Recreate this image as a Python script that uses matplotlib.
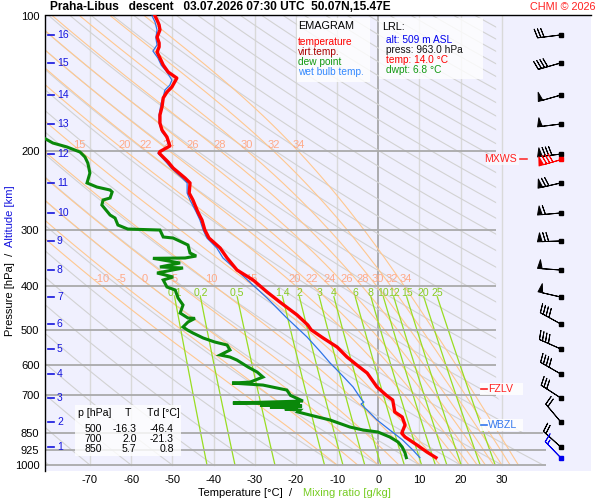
import numpy as np
import matplotlib
matplotlib.use('Agg')
import matplotlib.pyplot as plt
from matplotlib.patches import Rectangle, Polygon

plt.rcParams['font.family'] = ['Liberation Sans', 'DejaVu Sans']

# ---------------- data ----------------
temp_p = [100.0, 102.1, 104.7, 107.4, 111.4, 114.8, 117.2, 120.3, 124.0, 128.6, 133.3, 137.5,
          143.9, 147.7, 152.2, 159.4, 166.1, 173.1, 179.5, 186.0, 194.8, 200.4, 202.0, 211.5,
          218.1, 229.6, 235.4, 247.9, 256.9, 273.3, 284.7, 299.7, 312.2, 328.6, 345.9, 367.9,
          387.2, 411.8, 433.5, 463.4, 487.8, 500.0, 521.4, 546.1, 574.8, 598.9, 624.0, 670.5,
          700.0, 716.7, 762.0, 781.8, 814.5, 844.3, 850.0, 866.3, 902.6, 935.6, 963.0]
temp_t = [-54.2, -53.7, -53.2, -53.0, -53.7, -53.2, -53.2, -53.7, -53.0, -52.2, -51.0, -48.9,
          -50.1, -51.3, -52.2, -52.5, -53.0, -53.0, -52.5, -51.3, -50.6, -53.0, -53.2, -51.0,
          -49.8, -46.9, -45.7, -45.9, -45.0, -43.8, -42.8, -42.1, -41.1, -38.4, -36.7, -34.3,
          -30.4, -27.0, -23.9, -19.7, -17.1, -16.3, -13.4, -10.0, -7.6, -5.2, -2.7, -0.3,
          2.0, 3.5, 4.0, 5.8, 6.5, 5.8, 5.7, 6.5, 9.4, 11.8, 14.0]

dwpt_p = [185.1, 191.8, 195.7, 200.9, 206.1, 212.6, 223.7, 235.4, 240.4, 244.1, 246.6, 254.3,
          256.9, 263.6, 277.5, 281.8, 292.1, 298.2, 299.7, 310.6, 312.2, 323.6, 337.2, 342.4,
          345.9, 346.5, 354.9, 362.2, 364.1, 373.6, 381.3, 387.2, 401.4, 407.6, 424.7, 440.2,
          458.7, 470.6, 471.5, 480.4, 492.7, 500.0, 508.2, 521.4, 532.2, 540.5, 554.5, 568.9,
          574.8, 583.9, 605.2, 620.9, 637.0, 653.6, 657.0, 663.7, 680.9, 700.0, 720.4, 727.8,
          731.6, 735.4, 739.1, 743.0, 746.8, 750.6, 754.5, 762.0, 773.9, 794.0, 823.0, 835.8,
          844.3, 866.3, 888.8, 912.0, 940.4, 963.0]
dwpt_t = [-82.0, -79.0, -75.6, -72.4, -71.2, -70.5, -70.0, -70.7, -68.3, -65.1, -64.6, -65.1,
          -66.8, -67.1, -65.1, -63.9, -63.2, -60.8, -53.0, -52.2, -49.8, -46.2, -45.7, -44.2,
          -46.9, -54.7, -48.1, -53.0, -47.4, -53.7, -49.8, -52.2, -51.3, -49.3, -48.6, -47.4,
          -48.1, -46.2, -44.5, -46.2, -47.4, -46.4, -45.0, -42.5, -39.7, -36.7, -36.0, -38.4,
          -36.0, -34.3, -31.6, -29.4, -28.0, -31.1, -35.5, -28.0, -22.2, -21.3, -18.3, -35.3,
          -19.0, -28.7, -18.5, -26.3, -19.5, -22.7, -19.0, -19.5, -16.6, -11.7, -6.9, -3.7,
          -0.1, 2.8, 4.8, 5.8, 6.5, 6.8]

wetb_p = [100.0, 103.1, 107.4, 111.9, 116.0, 119.7, 124.0, 128.6, 133.3, 138.9, 142.5, 146.2,
          151.5, 156.2, 166.1, 173.1, 181.3, 186.0, 195.7, 202.0, 211.5, 218.1, 229.6, 235.4,
          247.9, 256.9, 273.3, 284.7, 299.7, 312.2, 328.6, 345.9, 373.6, 424.7, 470.6, 518.7,
          557.4, 592.6, 624.0, 670.5, 716.7, 724.2, 731.6, 754.5, 794.0, 835.8, 879.7, 926.2, 963.0]
wetb_t = [-54.9, -54.2, -53.7, -54.0, -53.7, -54.7, -53.5, -52.7, -51.3, -50.1, -50.6, -51.8,
          -52.2, -52.7, -53.2, -53.2, -52.5, -51.5, -50.8, -53.5, -51.5, -50.3, -47.6, -46.4,
          -46.4, -45.7, -44.2, -43.3, -42.5, -41.6, -39.2, -37.7, -33.6, -27.0, -22.2, -17.3,
          -14.2, -11.7, -9.3, -6.1, -4.0, -3.5, -4.2, -2.7, -0.3, 2.8, 5.9, 8.4, 10.1]

alt_km = [16, 15, 14, 13, 12, 11, 10, 9, 8, 7, 6, 5, 4, 3, 2, 1]
alt_p = [110.2, 127.2, 150.0, 174.0, 203.0, 235.4, 274.6, 317.0, 367.9, 422.6, 485.3,
         551.6, 627.1, 709.2, 802.0, 912.0]
wind_dir = [263, 254, 254, 263, 263, 257, 265, 268, 274, 283, 299, 294, 300, 303, 320, 312]
wind_spd = [30, 40, 50, 50, 80, 70, 60, 70, 50, 50, 40, 40, 40, 30, 20, 20]
sfc_p, sfc_dir, sfc_spd = 963.0, 316, 15
mxws_p, mxws_dir, mxws_spd = 208.0, 254, 80

p_ticks = [100, 200, 300, 400, 500, 600, 700, 850, 925, 1000]
t_ticks = [-70, -60, -50, -40, -30, -20, -10, 0, 10, 20, 30]
theta_w = [-10, -5, 0, 5, 10, 15, 20, 22, 24, 26, 28, 30, 32, 34]
mix_ratio = [0.1, 0.2, 0.5, 1.4, 2, 3, 4, 6, 8, 10, 12, 15, 20, 25]
mix_labels = ['0.1', '0.2', '0.5', '1.4', '2', '3', '4', '6', '8', '10', '12', '15', '20', '25']

tab_p = [500, 700, 850]
tab_t = [-16.3, 2.0, 5.7]
tab_td = [-46.4, -21.3, 0.8]

lrl_alt, lrl_press, lrl_temp, lrl_dwpt = 509, 963.0, 14.0, 6.8
fzlv_p, wbzl_p = 677.0, 815.0

# ---------------- layout helpers ----------------
W, H = 600, 500
def fx(x): return x / W
def fy(y): return 1 - y / H

XMIN, XMAX = -80.9, 51.63
PTOP, PBOT = 99.74, 1028.6
TRIGHT = 28.6   # right edge of diagram lines

fig = plt.figure(figsize=(6, 5), dpi=100)
fig.patch.set_facecolor('white')
ax = fig.add_axes([fx(45), fy(470.5), 546 / W, 455 / H])
ax.set_facecolor('#f0f0fe')
ax.set_yscale('log')
ax.set_xlim(XMIN, XMAX)
ax.set_ylim(PBOT, PTOP)
for s in ['right', 'bottom']:
    ax.spines[s].set_visible(False)
ax.spines['left'].set_linewidth(1.0)
ax.spines['top'].set_linewidth(1.0)

ax.set_yticks(p_ticks)
ax.set_yticklabels([str(p) for p in p_ticks])
ax.yaxis.set_minor_locator(matplotlib.ticker.NullLocator())
ax.set_xticks(t_ticks)
ax.set_xticklabels([str(t) for t in t_ticks])
ax.tick_params(axis='both', length=0, labelsize=8)
ax.tick_params(axis='y', pad=4)
ax.tick_params(axis='x', pad=3)

clip = Polygon([(XMIN, PTOP), (TRIGHT, PTOP), (TRIGHT, 700), (40.7, 1000), (XMIN, 1000)],
               closed=True, transform=ax.transData, facecolor='none', edgecolor='none')

# isotherms
for t in t_ticks:
    ax.plot([t, t], [100, 1000], color='#999999' if t == 0 else '#d9d9d9',
            lw=1.1 if t == 0 else 1.0, zorder=1)

# dry adiabats
pp = np.geomspace(1000, 100, 200)
for th in range(-80, 320, 10):
    T = (th + 273.15) * (pp / 1000.0) ** 0.2857 - 273.15
    ln, = ax.plot(T, pp, color='#d2d2d2', lw=0.8, zorder=1)
    ln.set_clip_path(clip)

# moist adiabats
def moist(tw):
    Rd, Cp, Lv, eps = 287.04, 1005.7, 2.501e6, 0.622
    def f(T, p):
        e = 6.112 * np.exp(17.67 * (T - 273.15) / (T - 29.65))
        rs = eps * e / (p - e)
        return (Rd * T + Lv * rs) / (Cp + Lv * Lv * rs * eps / (Rd * T * T))
    lnp = np.log(pp)
    T = tw + 273.15
    out = [T]
    for i in range(len(lnp) - 1):
        h = lnp[i + 1] - lnp[i]
        pm = np.exp(lnp[i] + 0.5 * h)
        k1 = f(T, pp[i]); k2 = f(T + 0.5 * h * k1, pm)
        k3 = f(T + 0.5 * h * k2, pm); k4 = f(T + h * k3, pp[i + 1])
        T = T + h * (k1 + 2 * k2 + 2 * k3 + k4) / 6
        out.append(T)
    return np.array(out) - 273.15

for tw in theta_w:
    T = moist(tw)
    ln, = ax.plot(T, pp, color='#ffc890', lw=0.8, zorder=1.5)
    ln.set_clip_path(clip)
    for plev in (386, 194):
        tl = np.interp(np.log(plev), np.log(pp[::-1]), T[::-1])
        if XMIN + 1 < tl < TRIGHT:
            ax.text(tl, plev, str(tw), color='#ffaa88', fontsize=8,
                    ha='left', va='center', zorder=2)

# mixing ratio lines
pm_ = np.geomspace(1000, 422, 60)
for w, lab in zip(mix_ratio, mix_labels):
    e = w * pm_ / (622.0 + w)
    a = np.log(e / 6.112)
    T = 243.5 * a / (17.67 - a)
    ln, = ax.plot(T, pm_, color='#99dd22', lw=0.9, zorder=1.6)
    ln.set_clip_path(clip)
    ax.text(T[-1], 413, lab, color='#88cc22', fontsize=7.6, ha='center',
            va='center', zorder=2)

# pressure lines
ax.hlines([200, 300, 400, 500, 600, 700], XMIN, TRIGHT, color='#aaaaaa', lw=1.3, zorder=2)
ax.hlines([850], XMIN, 39.9, color='#aaaaaa', lw=1.3, zorder=2)
ax.hlines([925, 1000], XMIN, 40.7, color='#aaaaaa', lw=1.3, zorder=2)

# profiles
ax.plot(dwpt_t, dwpt_p, color='#0a880a', lw=2.2, zorder=4, solid_joinstyle='miter')
ax.plot(wetb_t, wetb_p, color='#2f74e6', lw=0.9, zorder=5)
ax.plot(temp_t, temp_p, color='#ff0000', lw=2.4, zorder=6)

# altitude labels
for km, p in zip(alt_km, alt_p):
    ax.plot([-80.2, -78.7], [p, p], color='#1414dd', lw=1.2, zorder=6, clip_on=False)
    ax.text(-78.0, p, str(km), color='#1414dd', fontsize=7.5, ha='left', va='center', zorder=6)

# wind barbs
BX = 44.3
BARB = dict(length=5.8, pivot='tip', linewidth=0.7, zorder=7,
            sizes=dict(spacing=0.14, height=0.38, width=0.2, emptybarb=0.0))
def uv(d, s):
    r = np.deg2rad(np.asarray(d, float))
    s = np.asarray(s, float)
    return -s * np.sin(r), -s * np.cos(r)
u, v = uv(wind_dir, wind_spd)
ax.barbs(np.full(len(alt_p), BX), alt_p, u, v, color='k', **BARB)
ax.plot(np.full(len(alt_p), BX), alt_p, 's', color='k', ms=2.2, zorder=8)
u, v = uv([mxws_dir], [mxws_spd])
ax.barbs([BX], [mxws_p], u, v, color='#ff0000', **BARB)
ax.plot([BX], [mxws_p], 's', color='#ff0000', ms=2.2, zorder=8)
u, v = uv([sfc_dir], [sfc_spd])
ax.barbs([BX], [sfc_p], u, v, color='#0000ee', **BARB)
ax.plot([BX], [sfc_p], 's', color='#0000ee', ms=2.2, zorder=8)

# ---------------- boxes and texts ----------------
def box(x0, y0, x1, y1, alpha=0.8):
    fig.add_artist(Rectangle((fx(x0), fy(y1)), (x1 - x0) / W, (y1 - y0) / H,
                             transform=fig.transFigure, facecolor='white',
                             edgecolor='none', alpha=alpha, zorder=3))

def ftext(x, y, s, **kw):
    kw.setdefault('va', 'center')
    kw.setdefault('fontsize', 7.3)
    fig.text(fx(x), fy(y), s, zorder=4, **kw)

box(297, 18, 370, 82)
ftext(298, 26, 'EMAGRAM', fontsize=7.8)
ftext(298, 42.3, 'temperature', color='#ff0000')
ftext(298, 52.3, 'virt.temp.', color='#aa0000')
ftext(298, 62, 'dew point', color='#119911')
ftext(298, 72, 'wet bulb temp.', color='#3388ff')

box(379, 18, 483, 79)
ftext(382, 27.3, 'LRL:', fontsize=7.8)
ftext(386, 40, f'alt: {lrl_alt} m ASL', color='#0000ee')
ftext(386, 50, f'press: {lrl_press:.1f} hPa', color='#111111')
ftext(386, 60.3, f'temp: {lrl_temp:.1f} °C', color='#ff0000')
ftext(386, 70.3, f'dwpt: {lrl_dwpt:.1f} °C', color='#119911')

box(75, 405, 181, 456)
ftext(78, 413.5, 'p [hPa]', fontsize=7.6)
ftext(125, 413.5, 'T', fontsize=7.6)
ftext(146.7, 413.5, 'Td [°C]', fontsize=7.6)
for i, (p, t, td) in enumerate(zip(tab_p, tab_t, tab_td)):
    yy = 428.7 + 10 * i
    ftext(102.3, yy, str(p), ha='right', fontsize=7.6)
    ftext(136.7, yy, f'{t:.1f}', ha='right', fontsize=7.6)
    ftext(174, yy, f'{td:.1f}', ha='right', fontsize=7.6)

# freezing levels
def ypix_of(p):
    return H - ax.transData.transform((0, p))[1]

def level_mark(p, label, color):
    ypix = ypix_of(p)
    box(480, ypix - 6, 523, ypix + 6, alpha=0.85)
    fig.add_artist(plt.Line2D([fx(481), fx(487)], [fy(ypix), fy(ypix)], color=color,
                              lw=1.2, transform=fig.transFigure, zorder=5))
    ftext(488, ypix, label, color=color, fontsize=7.6)

level_mark(fzlv_p, 'FZLV', '#ff2020')
level_mark(wbzl_p, 'WBZL', '#3377ee')

ydm = ypix_of(mxws_p)
box(486, ydm - 5, 519, ydm + 6, alpha=0.6)
ftext(517, ydm + 0.5, 'MXWS', color='#ff2020', ha='right', fontsize=7.6)
fig.add_artist(plt.Line2D([fx(520), fx(527)], [fy(ydm), fy(ydm)], color='#ff2020',
                          lw=1.1, transform=fig.transFigure, zorder=5))

# titles and axis labels
ftext(50, 7.5, 'Praha-Libus   descent   03.07.2026 07:30 UTC  50.07N,15.47E',
      fontsize=8.6, fontweight='bold')
ftext(596, 7.5, 'CHMI © 2026', color='#ff2020', fontsize=7.8, ha='right')
ftext(198, 492.5, 'Temperature [°C]  /', fontsize=8)
ftext(303, 492.5, 'Mixing ratio [g/kg]', fontsize=8, color='#77cc22')
fig.text(fx(10), fy(336), 'Pressure [hPa]  /', rotation=90, rotation_mode='anchor',
         ha='left', va='center', fontsize=8)
fig.text(fx(10), fy(247), 'Altitude [km]', rotation=90, rotation_mode='anchor',
         ha='left', va='center', fontsize=8, color='#1414dd')

fig.savefig('out.png', dpi=100)
